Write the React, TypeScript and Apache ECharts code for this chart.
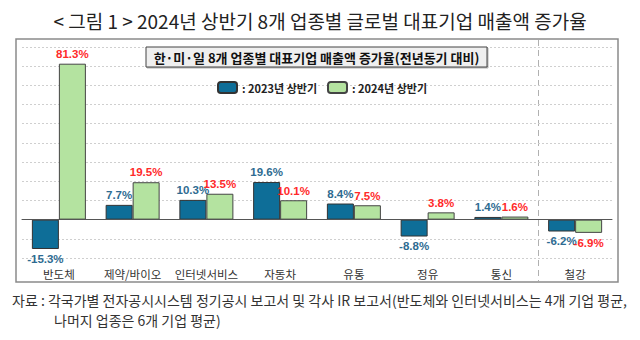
import React, { useEffect, useRef } from "react";
import * as echarts from "echarts";

const categories = ["반도체", "제약/바이오", "인터넷서비스", "자동차", "유통", "정유", "통신", "철강"];
const values2023 = [-15.3, 7.7, 10.3, 19.6, 8.4, -8.8, 1.4, -6.2];
const values2024 = [81.3, 19.5, 13.5, 10.1, 7.5, 3.8, 1.6, -6.9];
const seriesNames = ["2023년 상반기", "2024년 상반기"];
const yMin = -20;
const yMax = 90;
const yInterval = 10;

const titleText = "< 그림 1 > 2024년 상반기 8개 업종별 글로벌 대표기업 매출액 증가율";
const subtitleText = "한·미·일 8개 업종별 대표기업 매출액 증가율(전년동기 대비)";
const sourceLine1 = "자료 : 각국가별 전자공시시스템 정기공시 보고서 및 각사 IR 보고서(반도체와 인터넷서비스는 4개 기업 평균,";
const sourceLine2 = "나머지 업종은 6개 기업 평균)";

const KR = "'Noto Sans CJK KR', 'Noto Sans', sans-serif";
const NUM = "'Liberation Sans', 'Noto Sans CJK KR', sans-serif";

const BLUE = "#0e6e98";
const GREEN = "#b4e3a0";
const BLUE_LABEL = "#2e6b91";
const RED_LABEL = "#ff2a2a";

function buildData(vals: number[]) {
  return vals.map((v) => ({
    value: v,
    label: { position: v < 0 ? "bottom" : "top" },
  }));
}

export default function App() {
  const ref = useRef<HTMLDivElement>(null);
  useEffect(() => {
    if (!ref.current) return;
    const chart = echarts.init(ref.current, undefined, { renderer: "svg" });
    const labelBase = {
      show: true,
      fontFamily: NUM,
      fontWeight: "bold" as const,
      fontSize: 11.5,
      distance: 4,
      formatter: (p: any) => `${Number(p.value).toFixed(1)}%`,
    };
    chart.setOption({
      animation: false,
      backgroundColor: "#ffffff",
      grid: { left: 22, right: 28, top: 47, bottom: 82 },
      legend: {
        left: 212,
        top: 76,
        itemWidth: 19,
        itemHeight: 11,
        itemGap: 10,
        data: seriesNames,
        formatter: (n: string) => `: ${n}`,
        textStyle: { fontFamily: KR, fontWeight: "bold", fontSize: 11, color: "#222" },
      },
      xAxis: {
        type: "category",
        data: categories,
        axisLine: { onZero: true, lineStyle: { color: "#555", width: 1 } },
        axisTick: { show: false },
        axisLabel: {
          interval: 0,
          fontFamily: KR,
          fontSize: 11.5,
          color: "#333",
          margin: 10,
        },
        z: 5,
      },
      yAxis: {
        type: "value",
        min: yMin,
        max: yMax,
        interval: yInterval,
        axisLabel: { show: false },
        axisLine: { show: false },
        axisTick: { show: false },
        splitLine: { lineStyle: { color: "#cfcfcf", type: [2, 2], width: 1 } },
      },
      series: [
        {
          name: seriesNames[0],
          type: "bar",
          data: buildData(values2023),
          barWidth: 27,
          barGap: "0%",
          itemStyle: { color: BLUE, borderColor: "#333", borderWidth: 1 },
          label: { ...labelBase, color: BLUE_LABEL },
        },
        {
          name: seriesNames[1],
          type: "bar",
          data: buildData(values2024),
          barWidth: 27,
          barGap: "0%",
          itemStyle: { color: GREEN, borderColor: "#444", borderWidth: 1 },
          label: { ...labelBase, color: RED_LABEL },
        },
      ],
      graphic: [
        {
          type: "text",
          x: 320,
          y: 20,
          style: {
            text: titleText,
            fontFamily: KR,
            fontSize: 19,
            fill: "#222",
            align: "center",
            verticalAlign: "middle",
          },
        },
        {
          type: "rect",
          shape: { x: 16, y: 39, width: 602, height: 243 },
          style: { fill: "none", stroke: "#8a8a8a", lineWidth: 1.5 },
          silent: true,
        },
        {
          type: "line",
          shape: { x1: 538.5, y1: 40, x2: 538.5, y2: 281 },
          style: { stroke: "#b0b0b0", lineWidth: 1, lineDash: [6, 4] },
          silent: true,
        },
        {
          type: "rect",
          shape: { x: 146, y: 47, width: 341, height: 20 },
          style: { fill: "#efefef", stroke: "#444", lineWidth: 1, shadowColor: "rgba(0,0,0,0.3)", shadowOffsetX: 1, shadowOffsetY: 1, shadowBlur: 1 },
          z: 10,
        },
        {
          type: "text",
          x: 316.5,
          y: 57,
          z: 11,
          style: {
            text: subtitleText,
            fontFamily: KR,
            fontWeight: "bold",
            fontSize: 13,
            fill: "#111",
            align: "center",
            verticalAlign: "middle",
          },
        },
        {
          type: "text",
          x: 12,
          y: 300,
          style: { text: sourceLine1, fontFamily: KR, fontSize: 14, fill: "#333", verticalAlign: "middle" },
        },
        {
          type: "text",
          x: 54,
          y: 320,
          style: { text: sourceLine2, fontFamily: KR, fontSize: 14, fill: "#333", verticalAlign: "middle" },
        },
      ],
    });
    return () => chart.dispose();
  }, []);
  return (
    <div
      ref={ref}
      style={{ position: "fixed", left: 0, top: 0, width: 640, height: 340, background: "#fff" }}
    />
  );
}
